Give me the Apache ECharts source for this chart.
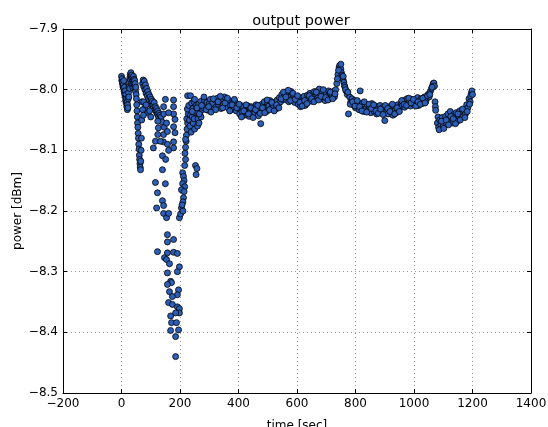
<!DOCTYPE html>
<html>
<head>
<meta charset="utf-8">
<script src="https://cdn.jsdelivr.net/npm/echarts@6/dist/echarts.min.js"></script>
<style>
html,body{margin:0;padding:0;background:#fff;overflow:hidden;}
#chart{width:548px;height:427px;}
</style>
</head>
<body>
<div id="chart"></div>
<script>
const titleText = 'output power';
const xLabel = 'time [sec]';
const yLabel = 'power [dBm]';

const startTime = [0,1,2,3,4,5,6,7,8,9,10,11,12,13,14,15,16,17,18,19,20,21,22,23,24,25,26,27,28,29,30,31,32,33,34,35,36,37,38,39,40,41,42,43,44,45,46,47,48,49,50,51,52,53,54,55,56,57,58,59,60,61,62,63,64,65,66,67,68,69,70];
const startPower = [-7.978,-7.985,-7.982,-7.990,-7.987,-7.995,-7.992,-7.998,-7.985,-8.003,-7.996,-8.008,-8.002,-8.012,-8.018,-8.008,-8.022,-8.015,-8.028,-8.020,-8.033,-8.025,-8.030,-8.015,-8.005,-8.012,-7.995,-7.988,-7.998,-7.980,-7.975,-7.984,-7.972,-7.978,-7.990,-7.976,-7.982,-7.993,-7.986,-7.997,-7.985,-7.978,-7.990,-7.983,-7.992,-7.985,-7.998,-7.990,-8.003,-7.996,-8.008,-8.015,-8.025,-8.035,-8.045,-8.055,-8.062,-8.072,-8.080,-8.090,-8.098,-8.108,-8.115,-8.122,-8.128,-8.132,-8.118,-8.100,-8.080,-8.050,-8.020];

const clusterPoints = [[72,-7.990],[74,-7.984],[76,-7.995],[78,-7.986],[80,-8.000],[82,-7.992],[84,-8.006],[86,-7.998],[88,-8.010],[90,-8.003],[92,-8.015],[94,-8.008],[96,-8.018],[98,-8.012],[100,-8.022],[102,-8.016],[104,-8.026],[106,-8.019],[108,-8.030],[110,-8.024],[112,-8.021],[114,-8.033],[116,-8.028],[118,-8.036],[120,-8.031],[122,-8.040],[124,-8.035],[126,-8.044],[128,-8.039],[130,-8.048],[132,-8.042],[134,-8.050],[136,-8.045],[138,-8.053],[76,-8.020],[80,-8.030],[84,-8.025],[90,-8.038],[96,-8.035],[72,-8.033],[75,-8.042],[100,-8.045]];

const scatterPoints = [[124,-8.052],[126,-8.063],[144,-8.028],[144,-8.040],[146,-8.062],[144,-8.074],[124,-8.074],[143,-8.086],[178,-8.017],[178,-8.028],[178,-8.040],[183,-8.049],[178,-8.061],[183,-8.071],[178,-8.086],[116,-8.085],[133,-8.085],[178,-8.096],[109,-8.096],[140,-8.109],[140,-8.132],[116,-8.153],[150,-8.155],[123,-8.170],[140,-8.183],[120,-8.195],[144,-8.191],[144,-8.204],[154,-8.211],[157,-8.090],[161,-8.100],[157,-8.069],[154,-8.055],[161,-8.038],[150,-8.016],[151,-8.115]];

const dipPoints = [[157,-8.239],[157,-8.251],[178,-8.247],[123,-8.267],[157,-8.269],[178,-8.268],[191,-8.270],[147,-8.277],[154,-8.280],[164,-8.287],[198,-8.292],[191,-8.300],[157,-8.302],[168,-8.316],[171,-8.318],[157,-8.321],[195,-8.330],[164,-8.333],[191,-8.338],[174,-8.341],[161,-8.351],[174,-8.354],[191,-8.358],[198,-8.361],[198,-8.368],[185,-8.368],[168,-8.373],[171,-8.384],[188,-8.384],[195,-8.396],[168,-8.397],[185,-8.407],[185,-8.440],[161,-8.204],[198,-8.211],[202,-8.205]];

const recoveryPoints = [[209,-8.137],[212,-8.143],[214,-8.150],[209,-8.155],[216,-8.160],[205,-8.165],[214,-8.168],[212,-8.178],[210,-8.185],[205,-8.195],[210,-8.200],[207,-8.190],[216,-8.125],[219,-8.115],[217,-8.105],[219,-8.095],[221,-8.085],[222,-8.075],[224,-8.065],[226,-8.055],[223,-8.048],[228,-8.040],[225,-8.032],[230,-8.026],[226,-8.010],[219,-8.082],[232,-8.050],[234,-8.060],[236,-8.042],[238,-8.070],[236,-8.010],[242,-8.045],[245,-8.055],[248,-8.048],[250,-8.065],[252,-8.038],[253,-8.125],[258,-8.130],[255,-8.140],[260,-8.060],[262,-8.048],[265,-8.055],[268,-8.040],[272,-8.045]];

const plateauA = [[240,-8.022],[244,-8.031],[248,-8.020],[252,-8.035],[256,-8.026],[260,-8.038],[264,-8.024],[268,-8.030],[272,-8.019],[276,-8.033],[280,-8.030],[284,-8.018],[288,-8.027],[292,-8.021],[296,-8.034],[300,-8.023],[304,-8.016],[308,-8.029],[312,-8.022],[316,-8.032],[320,-8.017],[324,-8.028],[328,-8.014],[332,-8.025],[336,-8.020],[340,-8.031],[344,-8.016],[348,-8.024],[352,-8.012],[356,-8.027],[360,-8.021],[364,-8.030],[368,-8.018],[372,-8.026],[376,-8.033],[380,-8.022],[384,-8.029],[388,-8.020],[392,-8.035],[396,-8.027],[400,-8.031],[404,-8.040],[408,-8.026],[412,-8.036],[416,-8.029],[420,-8.042],[424,-8.033],[428,-8.038],[432,-8.027],[436,-8.044],[440,-8.036],[444,-8.028],[448,-8.041],[452,-8.031],[456,-8.038],[460,-8.025],[464,-8.035],[468,-8.043],[472,-8.030],[476,-8.056]];

const plateauB = [[480,-8.024],[484,-8.033],[488,-8.020],[492,-8.029],[496,-8.036],[500,-8.022],[504,-8.027],[508,-8.018],[512,-8.031],[516,-8.025],[520,-8.028],[524,-8.021],[528,-8.032],[532,-8.017],[536,-8.025],[540,-8.013],[544,-8.020],[548,-8.008],[552,-8.016],[556,-8.011],[560,-8.005],[564,-8.017],[568,-8.009],[572,-8.020],[576,-8.012],[580,-8.003],[584,-8.015],[588,-8.010],[592,-8.021],[596,-8.013],[600,-8.016],[604,-8.024],[608,-8.013],[612,-8.028],[616,-8.019],[620,-8.022],[624,-8.011],[628,-8.026],[632,-8.017],[636,-8.009],[640,-8.014],[644,-8.006],[648,-8.019],[652,-8.008],[656,-8.012],[660,-8.003],[664,-8.016],[668,-8.009],[672,-8.013],[676,-7.999],[680,-8.007],[684,-8.015],[688,-8.004],[692,-8.012],[696,-8.018],[700,-8.006],[704,-8.011],[708,-8.002],[712,-8.014],[716,-8.008]];

const plateauC = [[720,-8.010],[724,-8.003],[728,-8.012],[732,-8.000],[736,-7.990],[740,-7.975],[744,-7.963],[746,-7.960],[748,-7.968],[750,-7.966],[752,-7.972],[754,-7.976],[756,-7.980],[758,-7.984],[760,-7.988],[762,-7.993],[764,-7.996],[768,-8.002],[772,-8.008],[776,-8.040],[780,-8.012],[784,-8.020],[788,-8.015],[792,-8.025],[796,-8.018],[800,-8.030],[804,-8.024],[808,-8.024],[812,-8.033],[816,-8.002],[820,-8.028],[824,-8.022],[828,-8.036],[832,-8.026],[836,-8.031],[840,-8.025],[844,-8.034],[848,-8.028],[852,-8.038],[856,-8.023],[860,-8.032],[864,-8.036],[868,-8.027],[872,-8.040],[876,-8.030],[880,-8.034],[884,-8.026],[888,-8.038],[892,-8.030],[896,-8.036],[900,-8.051],[904,-8.029],[908,-8.035],[912,-8.040],[916,-8.028],[920,-8.036],[924,-8.031],[928,-8.042],[932,-8.027],[936,-8.034],[940,-8.038],[944,-8.025],[948,-8.033],[952,-8.029],[956,-8.022]];

const plateauD = [[960,-8.026],[964,-8.018],[968,-8.029],[972,-8.020],[976,-8.015],[980,-8.024],[984,-8.019],[988,-8.027],[992,-8.016],[996,-8.021],[1000,-8.024],[1004,-8.017],[1008,-8.022],[1012,-8.013],[1016,-8.026],[1020,-8.019],[1024,-8.015],[1028,-8.023],[1032,-8.018],[1036,-8.012],[1040,-8.020],[1044,-8.014],[1048,-8.008],[1052,-8.012],[1056,-8.003],[1060,-7.998],[1064,-7.993],[1066,-7.990],[1068,-7.989],[1070,-7.994],[1072,-8.020],[1073,-8.028],[1074,-8.034]];

const plateauExtra = [[242,-8.036],[250,-8.016],[258,-8.030],[266,-8.040],[274,-8.026],[282,-8.012],[290,-8.033],[298,-8.028],[306,-8.037],[314,-8.015],[322,-8.033],[330,-8.020],[338,-8.011],[346,-8.030],[354,-8.022],[362,-8.014],[370,-8.035],[378,-8.025],[386,-8.016],[394,-8.030],[402,-8.024],[410,-8.045],[418,-8.035],[426,-8.025],[434,-8.040],[442,-8.030],[450,-8.046],[458,-8.033],[466,-8.026],[474,-8.039],[482,-8.030],[490,-8.038],[498,-8.017],[506,-8.033],[514,-8.021],[522,-8.035],[530,-8.025],[538,-8.030],[546,-8.015],[554,-8.004],[562,-8.012],[570,-8.001],[578,-8.018],[586,-8.006],[594,-8.016],[602,-8.010],[610,-8.021],[618,-8.027],[626,-8.018],[634,-8.023],[642,-8.010],[650,-8.015],[658,-8.020],[666,-8.004],[674,-8.017],[682,-8.011],[690,-8.000],[698,-8.013],[706,-8.017],[714,-8.004],[722,-8.015],[730,-8.007],[738,-7.982],[742,-7.968],[750,-7.958],[758,-7.978],[766,-8.000],[774,-8.004],[782,-8.024],[790,-8.020],[798,-8.027],[806,-8.018],[814,-8.028],[822,-8.035],[830,-8.020],[838,-8.037],[846,-8.024],[854,-8.031],[862,-8.025],[870,-8.035],[878,-8.039],[886,-8.032],[894,-8.041],[902,-8.026],[910,-8.031],[918,-8.036],[926,-8.024],[934,-8.040],[942,-8.030],[950,-8.036],[958,-8.018],[966,-8.024],[974,-8.026],[982,-8.014],[990,-8.022],[998,-8.016],[1006,-8.027],[1014,-8.020],[1022,-8.024],[1030,-8.014],[1038,-8.022],[1046,-8.010],[1054,-8.008],[1062,-7.996]];

const tailPoints = [[1080,-8.055],[1082,-8.045],[1084,-8.062],[1088,-8.050],[1092,-8.058],[1096,-8.046],[1100,-8.060],[1104,-8.052],[1108,-8.044],[1112,-8.056],[1116,-8.040],[1120,-8.050],[1124,-8.036],[1128,-8.046],[1132,-8.055],[1136,-8.041],[1140,-8.048],[1144,-8.038],[1148,-8.052],[1152,-8.043],[1156,-8.035],[1160,-8.047],[1164,-8.038],[1168,-8.044],[1172,-8.033],[1176,-8.040],[1180,-8.025],[1184,-8.030],[1188,-8.015],[1192,-8.020],[1196,-8.006],[1198,-8.002],[1086,-8.066],[1094,-8.052],[1102,-8.064],[1110,-8.050],[1118,-8.058],[1126,-8.044],[1134,-8.048],[1142,-8.056],[1150,-8.040],[1158,-8.050],[1166,-8.032],[1174,-8.046],[1182,-8.036],[1190,-8.024],[1194,-8.010],[1200,-8.008]];

const xTicks = {min: -200, max: 1400, step: 200};
const yTicks = {min: -8.5, max: -7.9, step: 0.1};

const startPoints = startTime.map((t, i) => [t, startPower[i]]);
const allPoints = [].concat(startPoints, clusterPoints, scatterPoints, dipPoints, recoveryPoints, plateauA, plateauB, plateauC, plateauD, plateauExtra, tailPoints);

const minus = s => String(s).replace('-', '\u2212');
const font = 'DejaVu Sans';
const gridLine = {show: true, lineStyle: {color: '#9a9a9a', type: [1, 3], width: 1}};
const frameLine = {show: true, onZero: false, lineStyle: {color: '#000', width: 1}};
const tick = {show: true, inside: true, length: 4, lineStyle: {color: '#000'}};

const chart = echarts.init(document.getElementById('chart'), null, {renderer: 'canvas'});
chart.setOption({
  animation: false,
  backgroundColor: '#fff',
  title: {
    text: titleText, left: 296, top: 9, textAlign: 'center',
    textStyle: {fontFamily: font, fontSize: 14.5, fontWeight: 'normal', color: '#000'}
  },
  grid: {left: 63, right: 17, top: 29, bottom: 34, containLabel: false, outerBoundsMode: 'none'},
  xAxis: [{
    type: 'value', min: xTicks.min, max: xTicks.max, interval: xTicks.step,
    name: xLabel, nameLocation: 'middle', nameGap: 27, nameMoveOverlap: false,
    nameTextStyle: {fontFamily: font, fontSize: 12, color: '#000'},
    axisLine: frameLine, axisTick: tick, splitLine: gridLine,
    axisLabel: {fontFamily: font, fontSize: 12, color: '#000', margin: 5, formatter: v => minus(v)}
  }, {
    type: 'value', position: 'top', min: xTicks.min, max: xTicks.max, interval: xTicks.step,
    axisLine: frameLine, axisTick: tick, splitLine: {show: false}, axisLabel: {show: false}
  }],
  yAxis: [{
    type: 'value', min: yTicks.min, max: yTicks.max, interval: yTicks.step,
    name: yLabel, nameLocation: 'middle', nameGap: 45, nameRotate: 90, nameMoveOverlap: false,
    nameTextStyle: {fontFamily: font, fontSize: 12, color: '#000', verticalAlign: 'middle'},
    axisLine: frameLine, axisTick: tick, splitLine: gridLine,
    axisLabel: {fontFamily: font, fontSize: 12, color: '#000', margin: 5, formatter: v => minus(v.toFixed(1))}
  }, {
    type: 'value', position: 'right', min: yTicks.min, max: yTicks.max, interval: yTicks.step,
    axisLine: frameLine, axisTick: tick, splitLine: {show: false}, axisLabel: {show: false}
  }],
  series: [{
    type: 'scatter',
    data: allPoints,
    symbol: 'circle',
    symbolSize: 6,
    itemStyle: {color: '#2c5fb8', borderColor: '#000', borderWidth: 0.8, opacity: 1}
  }]
});
</script>
</body>
</html>
